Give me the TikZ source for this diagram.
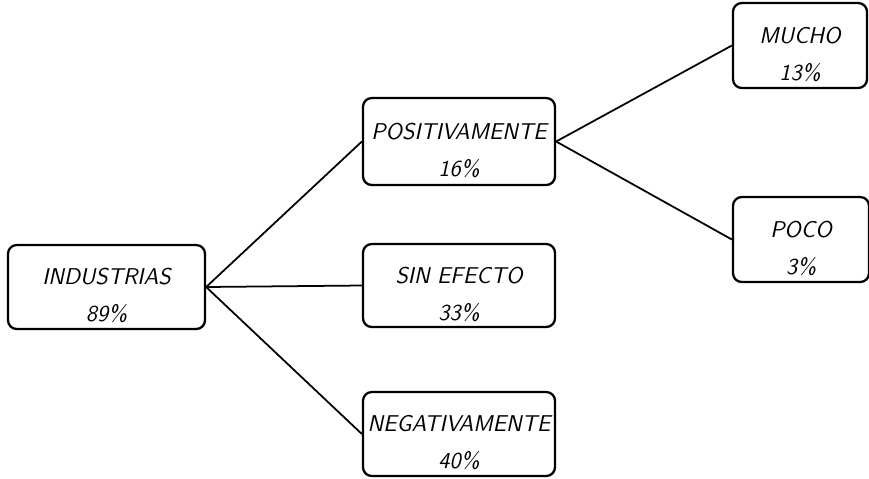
\documentclass[tikz,border=0pt]{standalone}
\newcommand{\dosl}[2]{\rule{0pt}{19pt}#1\\[6pt]#2}
\begin{document}
\begin{tikzpicture}[x=0.02cm,y=-0.02cm,
		caja/.style={draw,line width=1.3pt,rounded corners=5pt,align=center,inner sep=0pt,
			font=\fontsize{13}{15}\selectfont\sffamily\slshape},
		rama/.style={line width=1pt}]
		\useasboundingbox (0,0) rectangle (869,478);
		\node[caja,minimum width=197*0.02cm,minimum height=84*0.02cm] (ind) at (106.5,287) {\dosl{INDUSTRIAS}{89\%}};
		\node[caja,minimum width=192*0.02cm,minimum height=87*0.02cm] (pos) at (459,141.5) {\dosl{POSITIVAMENTE}{16\%}};
		\node[caja,minimum width=192*0.02cm,minimum height=83*0.02cm] (sin) at (459,285.5) {\dosl{SIN EFECTO}{33\%}};
		\node[caja,minimum width=192*0.02cm,minimum height=84*0.02cm] (neg) at (459,434) {\dosl{NEGATIVAMENTE}{40\%}};
		\node[caja,minimum width=134*0.02cm,minimum height=85*0.02cm] (mucho) at (800,45.5) {\dosl{MUCHO}{13\%}};
		\node[caja,minimum width=136*0.02cm,minimum height=85*0.02cm] (poco) at (801,239.5) {\dosl{POCO}{3\%}};
		\draw[rama] (ind.east) -- (pos.west);
		\draw[rama] (ind.east) -- (sin.west);
		\draw[rama] (ind.east) -- (neg.west);
		\draw[rama] (pos.east) -- (mucho.west);
		\draw[rama] (pos.east) -- (poco.west);
	\end{tikzpicture}
\end{document}
